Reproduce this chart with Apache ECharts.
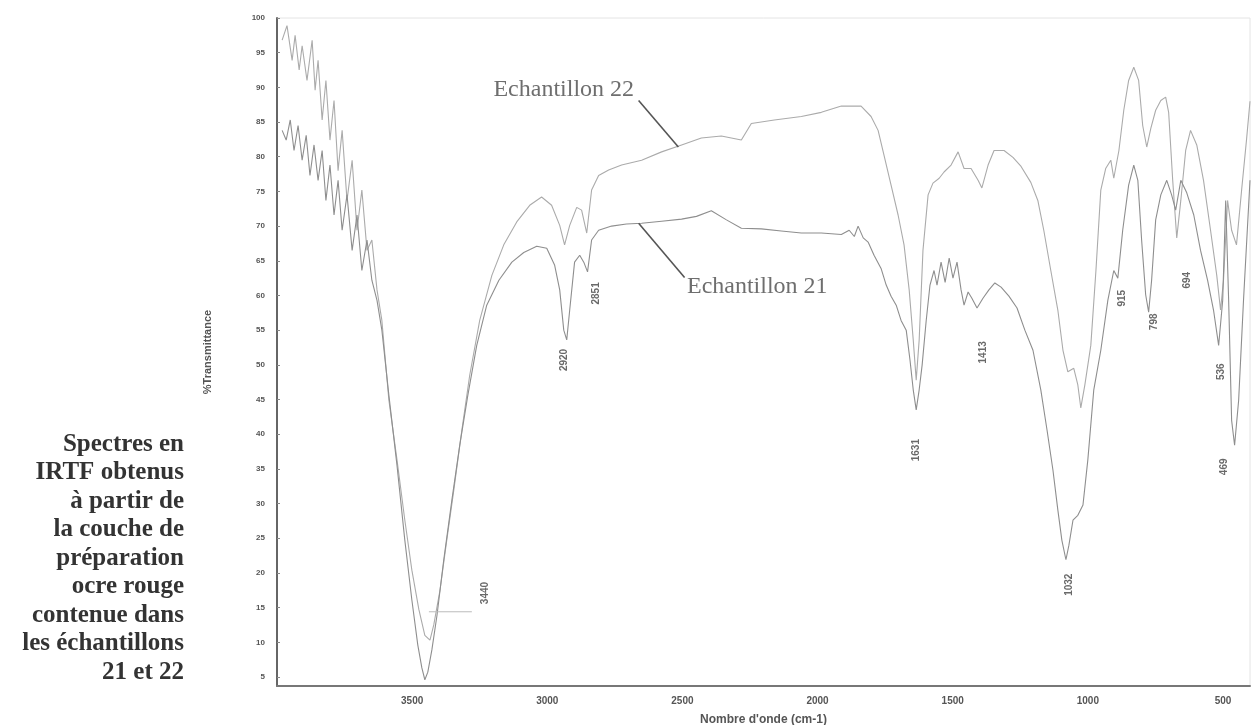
<!DOCTYPE html>
<html>
<head>
<meta charset="utf-8">
<script src="https://cdn.jsdelivr.net/npm/echarts@6/dist/echarts.min.js"></script>
<style>
html,body{margin:0;padding:0;background:#fff;}
#chart{width:1251px;height:725px;}
</style>
</head>
<body>
<div id="chart"></div>
<script>
// Wavenumber (cm-1) and % transmittance, sample 22 (upper curve in the middle)
const wn22 = [3981,3963,3944,3933,3918,3907,3889,3870,3859,3848,3833,3819,3804,3789,3774,3759,3741,3722,3704,3686,3667,3649,3630,3612,3586,3556,3527,3501,3475,3453,3434,3420,3397,3372,3346,3316,3287,3250,3205,3161,3113,3065,3021,2984,2954,2936,2917,2891,2873,2854,2836,2810,2773,2725,2651,2577,2503,2430,2356,2282,2245,2160,2060,1986,1912,1839,1802,1776,1754,1728,1702,1680,1661,1646,1635,1624,1610,1591,1573,1550,1532,1506,1480,1458,1432,1406,1392,1369,1347,1310,1277,1247,1211,1185,1163,1137,1111,1092,1074,1052,1037,1026,1011,989,970,952,934,915,904,885,867,849,830,812,797,782,767,749,730,712,701,686,671,656,638,620,597,572,546,523,509,498,483,468,450,431,413,400];
const t22  = [96.8,98.9,93.9,97.5,92.5,96,91,96.8,89.6,93.9,85.3,91,82.4,88.1,78,83.8,73.7,79.5,69.4,75.2,66.5,68,60.8,56.4,44.9,36.3,27.6,20.4,14.7,11,10.3,12.5,17.5,24.7,31.9,40.6,48.5,56.4,62.9,67.3,70.6,73,74.2,73,70.1,67.3,70.1,72.7,72.3,69,75.2,77.3,78.1,78.8,79.5,80.7,81.7,82.7,83,82.4,84.8,85.3,85.8,86.4,87.3,87.3,85.8,83.8,80.2,75.9,71.6,67.3,60.8,53.6,47.8,53.6,66.5,74.5,76.2,76.9,77.8,78.8,80.7,78.3,78.3,76.6,75.5,78.8,80.9,80.9,79.9,78.6,76.3,73.7,69.4,63.6,57.9,52.1,49,49.5,47.1,43.8,47.1,52.8,63.6,75.2,78.3,79.5,76.9,80.9,86.7,91,92.9,91,84.5,81.4,84.1,86.7,88.1,88.6,86.4,76.6,68.3,73.7,80.9,83.8,81.7,76.6,69.4,62.9,57.9,62.2,73.7,69.4,67.3,75.2,82.4,88];

// Sample 21 (lower curve in the middle)
const wn21 = [3981,3966,3951,3937,3922,3907,3892,3878,3863,3848,3833,3819,3804,3789,3774,3759,3741,3722,3704,3686,3667,3649,3630,3612,3586,3556,3527,3501,3479,3464,3453,3442,3427,3408,3383,3353,3324,3294,3261,3224,3179,3131,3087,3039,3002,2973,2954,2939,2928,2917,2899,2880,2865,2851,2836,2810,2762,2707,2651,2577,2503,2448,2393,2337,2282,2208,2134,2060,1986,1912,1883,1864,1850,1831,1813,1791,1765,1746,1728,1709,1691,1672,1658,1646,1635,1624,1613,1598,1584,1569,1558,1543,1528,1513,1499,1484,1469,1458,1443,1429,1410,1388,1366,1344,1321,1292,1262,1233,1203,1174,1151,1129,1111,1096,1081,1070,1055,1037,1018,1000,978,952,926,904,889,871,849,830,815,801,786,775,764,749,730,708,690,675,656,634,608,583,557,535,516,501,490,479,468,457,442,424,400];
const t21  = [83.8,82.4,85.3,80.9,84.5,79.5,83.1,77.3,81.7,76.6,80.9,73.7,78.8,71.6,76.6,69.4,74.5,66.5,71.6,63.6,68,62.2,59.3,55,45.6,35.5,24.7,16.1,9.6,6.3,4.6,5.7,8.9,13.9,21.9,30.5,38.4,45.6,52.8,58.6,62.2,64.8,66.2,67.1,66.8,64.4,60.8,55,53.6,57.9,64.8,65.8,64.8,63.4,68,69.4,70,70.3,70.4,70.7,71,71.4,72.2,70.9,69.7,69.6,69.3,69,69,68.8,69.4,68.5,70,68.3,67.7,65.8,63.9,61.5,59.9,58.6,56.4,55,50.7,46.4,43.5,46.4,50,56.4,61.5,63.6,61.5,64.8,61.9,65.4,62.5,64.8,60.8,58.6,60.5,59.6,58.2,59.6,60.8,61.8,61.2,59.9,58.2,55,52.1,46.4,40.6,34.8,29.1,24.7,21.9,24,27.6,28.3,29.8,36.3,46.4,52.1,59.3,63.6,62.5,69.4,75.9,78.8,76.6,68,60.1,57.6,62.2,70.9,74.5,76.6,74.5,72.3,76.6,74.8,71.6,66.5,62.2,57.9,52.8,59.3,73.7,59.3,42,38.4,44.9,59.3,76.6];

// Axis tick labels
const xTicks = [3500,3000,2500,2000,1500,1000,500];
const yTicks = [5,10,15,20,25,30,35,40,45,50,55,60,65,70,75,80,85,90,95,100];

// Band labels (position in data units, text)
const bandWn   = [3231,2936,2817,1635,1388,1070,871,756,634,505,494];
const bandT    = [17.1,50.7,60.3,37.7,51.8,18.3,59.6,56.2,62.2,49,35.3];
const bandText = ['3440','2920','2851','1631','1413','1032','915','798','694','536','469'];

// Sample name annotations
const sampleNames = ['Echantillon 22','Echantillon 21'];
const nameWn = [2939, 2223];
const nameT  = [89.6, 61.2];
const leaderFrom = [[2662,88.1],[2662,70.4]];
const leaderTo   = [[2515,81.4],[2492,62.6]];
const oh = [[3438,14.4],[3279,14.4]];

const caption = ['Spectres en','IRTF obtenus','à partir de','la couche de','préparation','ocre rouge','contenue dans','les échantillons','21 et 22'];

const chart = echarts.init(document.getElementById('chart'), null, {renderer:'canvas'});
const zip = (a,b)=>a.map((v,i)=>[v,b[i]]);

const series = [
  {name:'Echantillon 21', type:'line', data: zip(wn21,t21), showSymbol:false, symbol:'none',
   lineStyle:{color:'#8e8e8e', width:1.1}, z:3},
  {name:'Echantillon 22', type:'line', data: zip(wn22,t22), showSymbol:false, symbol:'none',
   lineStyle:{color:'#ababab', width:1.1}, z:2},
  {type:'scatter', data: bandWn.map((w,i)=>[w,bandT[i],bandText[i]]), symbolSize:0,
   label:{show:true, position:'inside', rotate:90, formatter:p=>p.value[2],
          fontSize:10, fontWeight:'bold', color:'#444', fontFamily:'Liberation Sans'}, z:5, silent:true},
  {type:'scatter', data: nameWn.map((w,i)=>[w,nameT[i],sampleNames[i]]), symbolSize:0,
   label:{show:true, position:'inside', formatter:p=>p.value[2],
          fontSize:24, color:'#4a4a4a', fontFamily:'Liberation Serif'}, z:5, silent:true}
];
leaderFrom.forEach((f,i)=>{
  series.push({type:'line', data:[f, leaderTo[i]], symbol:'none', lineStyle:{color:'#555', width:1.6}, z:4, silent:true});
});
series.push({type:'line', data: oh, symbol:'none', lineStyle:{color:'#bbb', width:1}, z:4, silent:true});

chart.setOption({
  animation:false,
  backgroundColor:'#fff',
  grid:{left:277, right:1, top:18, bottom:39, show:true, borderColor:'#e4e4e4', borderWidth:1,
        containLabel:false, outerBoundsMode:'none'},
  xAxis:{type:'value', min:400, max:4000, inverse:true,
    name:"Nombre d'onde (cm-1)", nameLocation:'middle', nameGap:28,
    nameTextStyle:{fontSize:12, fontWeight:'bold', color:'#555', fontFamily:'Liberation Sans'},
    axisLine:{show:true, onZero:false, lineStyle:{color:'#777', width:2}},
    axisTick:{show:false},
    splitLine:{show:false},
    axisLabel:{customValues:xTicks, formatter:v=>String(v), fontSize:10, fontWeight:'bold', color:'#555', margin:10, fontFamily:'Liberation Sans'}
  },
  yAxis:{type:'value', min:3.7, max:100,
    name:'%Transmittance', nameLocation:'middle', nameRotate:90, nameGap:64,
    nameTextStyle:{fontSize:11, fontWeight:'bold', color:'#555', fontFamily:'Liberation Sans'},
    axisLine:{show:true, onZero:false, lineStyle:{color:'#666', width:2}},
    axisTick:{show:true, customValues:yTicks, length:3, inside:true, lineStyle:{color:'#888'}},
    splitLine:{show:false},
    axisLabel:{customValues:yTicks, formatter:v=>String(v), fontSize:8, fontWeight:'bold', color:'#555', margin:12, fontFamily:'Liberation Sans'}
  },
  graphic:[{
    type:'text', x:184, y:430,
    style:{text:caption.join('\n'), font:'bold 25px "Liberation Serif"', fill:'#333',
           align:'right', textAlign:'right', lineHeight:28.5}
  }],
  series: series
});
</script>
</body>
</html>
